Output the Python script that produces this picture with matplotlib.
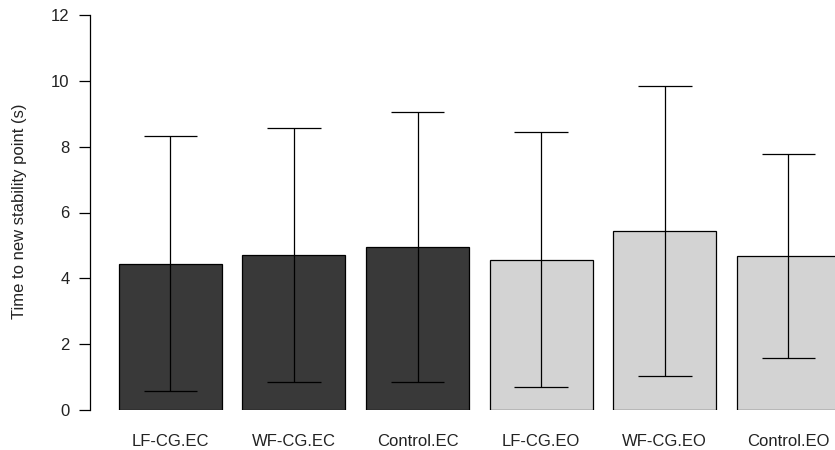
import matplotlib
matplotlib.use("Agg")
import matplotlib.pyplot as plt
import numpy as np

plt.rcParams['font.family'] = ['Liberation Sans', 'DejaVu Sans']

# mean time per group with the lower / upper ends of each error bar
groups = ["LF-CG.EC", "WF-CG.EC", "Control.EC", "LF-CG.EO", "WF-CG.EO", "Control.EO"]
means = [4.44, 4.70, 4.95, 4.57, 5.43, 4.69]
lower = [0.59, 0.84, 0.84, 0.71, 1.03, 1.58]
upper = [8.31, 8.56, 9.06, 8.46, 9.83, 7.79]
colors = ["#393939", "#393939", "#393939", "#d3d3d3", "#d3d3d3", "#d3d3d3"]

fig = plt.figure(figsize=(8.35, 4.5), dpi=100)
ax = fig.add_axes([90 / 835, 40 / 450, 745 / 835, 395 / 450])

# barplot-like spacing: width 1, gap 0.2
x = 0.2 + 1.2 * np.arange(len(groups)) + 0.5
ax.bar(x, means, width=1.0, color=colors, edgecolor="black", linewidth=0.9, zorder=2)

ax.vlines(x, lower, upper, color="black", linewidth=0.9, zorder=3)
half = 0.26
ax.hlines(lower, x - half, x + half, color="black", linewidth=0.9, zorder=3)
ax.hlines(upper, x - half, x + half, color="black", linewidth=0.9, zorder=3)

ax.set_xlim(-0.08, -0.08 + 745 / 103)
ax.set_ylim(0, 12)
ax.set_yticks(np.arange(0, 13, 2))
ax.set_xticks(x)
ax.set_xticklabels(groups, fontsize=12, color="#222222")
ax.tick_params(axis="x", length=0, pad=17.5)
ax.tick_params(axis="y", length=7.6, width=0.9, pad=7, labelsize=12, labelcolor="#222222")

for side in ["top", "right", "bottom"]:
    ax.spines[side].set_visible(False)
ax.spines["left"].set_linewidth(0.9)
ax.spines["left"].set_bounds(0, 12)
ax.patch.set_visible(False)

fig.text(20 / 835, 1 - 211 / 450, "Time to new stability point (s)", rotation=90,
         ha="center", va="center", fontsize=12, color="#222222")

fig.savefig("out.png", dpi=100)
